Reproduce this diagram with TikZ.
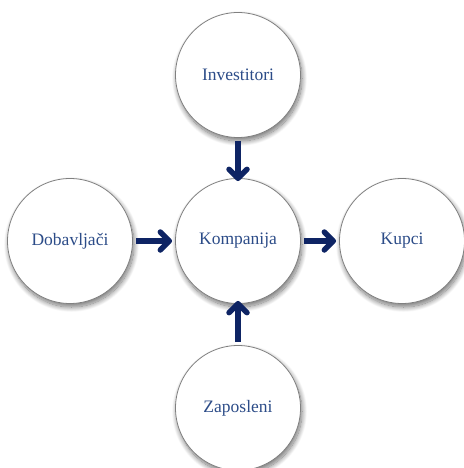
\documentclass[tikz,border=0pt]{standalone}
\usepackage{fontspec}
\setmainfont{Liberation Serif}
\usetikzlibrary{arrows.meta,shadows.blur}
\definecolor{labelblue}{RGB}{44,76,136}
\definecolor{arrownavy}{RGB}{14,36,100}
\definecolor{rimgray}{RGB}{128,128,128}
\tikzset{
  party/.style={circle, draw=rimgray, line width=0.8bp, fill=white,
    minimum size=125bp, inner sep=0pt, text=labelblue,
    font=\fontsize{17.5bp}{21bp}\selectfont,
    blur shadow={shadow xshift=1.5bp, shadow yshift=-3.5bp,
      shadow blur radius=5bp, shadow blur steps=14, shadow opacity=55}},
  flow/.style={draw=arrownavy, line width=5.5bp,
    -{Straight Barb[length=9bp,width=18bp,line cap=round,line join=round]}}
}
\begin{document}
\begin{tikzpicture}[x=1bp,y=-1bp]
  \useasboundingbox (0,0) rectangle (464,468);
  \node[party] (inv) at (238,75)  {Investitori};
  \node[party] (dob) at (70,241)  {Dobavljači};
  \node[party] (kom) at (238,241) {Kompanija};
  \node[party] (kup) at (402,241) {Kupci};
  \node[party] (zap) at (238,408) {Zaposleni};
  \draw[flow] (inv.south) ++(0,3) -- ([yshift=-3bp]kom.north);
  \draw[flow] (dob.east) ++(3,0) -- ([xshift=-3bp]kom.west);
  \draw[flow] (kom.east) ++(3,0) -- ([xshift=-3bp]kup.west);
  \draw[flow] (zap.north) ++(0,-3) -- ([yshift=3bp]kom.south);
\end{tikzpicture}
\end{document}
